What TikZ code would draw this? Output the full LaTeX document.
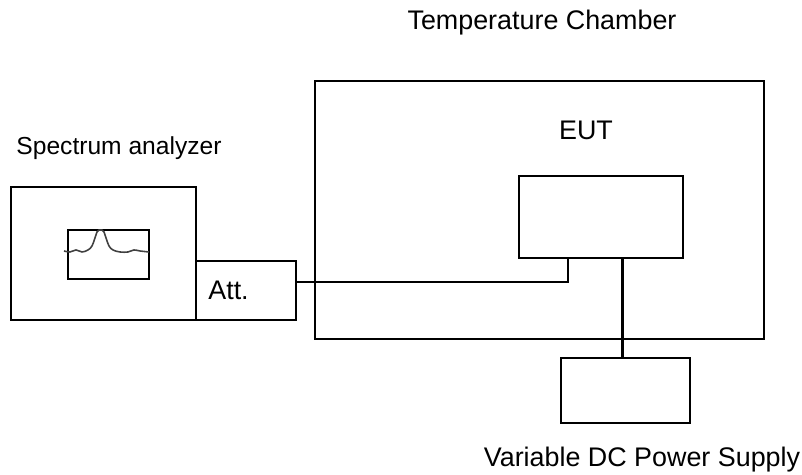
\documentclass[tikz,border=0pt]{standalone}
\usepackage{fontspec}
\setmainfont{Liberation Sans}
\usepackage{tikz}
\tikzstyle{object} = [rectangle, draw=black, line width=1.2pt, inner sep=0pt]
\tikzstyle{caption} = [anchor=base, inner sep=0pt, font=\fontsize{15.3}{18}\selectfont]
\tikzstyle{cable} = [line width=1.2pt]
\tikzstyle{trace} = [line width=0.9pt, black!75]

\begin{document}
\begin{tikzpicture}[x=0.02cm, y=0.02cm]
            \useasboundingbox (0,0) rectangle (802,475);
            \node (chamber) [object, minimum width=8.98cm, minimum height=5.16cm] at (539.5,265) {};
            \node (eut) [object, minimum width=3.28cm, minimum height=1.64cm] at (601,258) {};
            \node (analyzer) [object, minimum width=3.70cm, minimum height=2.66cm] at (103.5,221.5) {};
            \node (screen) [object, minimum width=1.62cm, minimum height=0.98cm] at (108.5,220.5) {};
            \node (att) [object, minimum width=2.00cm, minimum height=1.18cm] at (246,184.5) {};
            \node (supply) [object, minimum width=2.58cm, minimum height=1.30cm] at (625.5,84.5) {};
            \node (chamberlabel) [caption] at (542,445) {Temperature Chamber};
            \node (eutlabel) [caption] at (586,335) {EUT};
            \node (analyzerlabel) [caption, font=\fontsize{14}{17}\selectfont] at (119,320) {Spectrum analyzer};
            \node (attlabel) [caption, anchor=base west] at (208,175) {Att.};
            \node (supplylabel) [caption] at (642,8) {Variable DC Power Supply};
            \coordinate (dcin) at ([xshift=0.43cm]eut.south);
            \draw [cable] ([yshift=0.17cm]att.east) -| ([xshift=-0.66cm]eut.south);
            \draw [cable] (dcin) -- (dcin |- supply.north);
            \draw [trace] plot[smooth, tension=0.6] coordinates {(64,224) (70,223) (76,225) (82,223) (88,225) (92,229) (95,237) (97,243) (99,245) (102,245) (104,243) (106,237) (109,229) (113,225) (120,223) (128,223) (134,225) (140,224) (149,223)};
        \end{tikzpicture}
\end{document}
